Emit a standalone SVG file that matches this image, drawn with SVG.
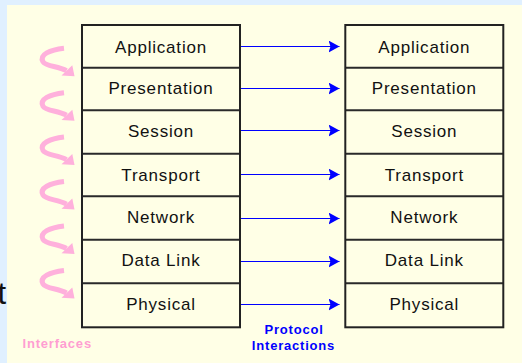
<svg xmlns="http://www.w3.org/2000/svg" xmlns:xlink="http://www.w3.org/1999/xlink" width="522" height="363" viewBox="0 0 522 363">
<style>
.layer{fill:#ffffe6;stroke:none}
.frame{fill:none;stroke:#222;stroke-width:2}
.div{stroke:#2a2a2a;stroke-width:2}
.lbl{font-family:"Liberation Sans",Arial,sans-serif;font-size:17px;letter-spacing:0.8px;fill:#111;text-anchor:middle}
.conn{stroke:#0000ff;stroke-width:1;fill:none}
.ifc{fill:none;stroke:#ffb0dc;stroke-width:5}
.ifh{fill:#ffb0dc}
.cap{font-family:"Liberation Sans",Arial,sans-serif;font-size:13px;font-weight:bold;letter-spacing:0.8px}
</style>
<defs>
<marker id="ah" markerUnits="userSpaceOnUse" markerWidth="12" markerHeight="13" refX="11" refY="6" orient="auto">
<path d="M0,0 L11,6 L0,12 L2,6 z" fill="#0000ff"/>
</marker>
<g id="iface">
<path class="ifc" d="M64,1.5 C50,3 39,8 43,15 C46,20 58,19 66.5,24"/>
<polygon class="ifh" points="72.3,18.5 61.5,28.7 74.5,29.5"/>
</g>
</defs>
<rect x="0" y="0" width="522" height="363" fill="#e0f0ff"/>
<text x="-2.5" y="304" font-family="Liberation Sans,Arial,sans-serif" font-size="31" fill="#111">t</text>
<rect x="7" y="5" width="515" height="358" fill="#ffffe6"/>

<g id="stack-left">
<rect class="layer" x="82" y="25" width="158" height="302.3"/>
<line class="div" x1="82" y1="67.7" x2="240" y2="67.7"/>
<line class="div" x1="82" y1="110.3" x2="240" y2="110.3"/>
<line class="div" x1="82" y1="153.7" x2="240" y2="153.7"/>
<line class="div" x1="82" y1="196.3" x2="240" y2="196.3"/>
<line class="div" x1="82" y1="239.7" x2="240" y2="239.7"/>
<line class="div" x1="82" y1="283.3" x2="240" y2="283.3"/>
<rect class="frame" x="82" y="25" width="158" height="302.3"/>
<text class="lbl" x="161" y="52.5">Application</text>
<text class="lbl" x="161" y="94">Presentation</text>
<text class="lbl" x="161" y="137">Session</text>
<text class="lbl" x="161" y="181">Transport</text>
<text class="lbl" x="161" y="222.7">Network</text>
<text class="lbl" x="161" y="266.3">Data Link</text>
<text class="lbl" x="161" y="309.7">Physical</text>
</g>

<g id="stack-right">
<rect class="layer" x="345.3" y="25" width="158" height="302.3"/>
<line class="div" x1="345.3" y1="67.7" x2="503.3" y2="67.7"/>
<line class="div" x1="345.3" y1="110.3" x2="503.3" y2="110.3"/>
<line class="div" x1="345.3" y1="153.7" x2="503.3" y2="153.7"/>
<line class="div" x1="345.3" y1="196.3" x2="503.3" y2="196.3"/>
<line class="div" x1="345.3" y1="239.7" x2="503.3" y2="239.7"/>
<line class="div" x1="345.3" y1="283.3" x2="503.3" y2="283.3"/>
<rect class="frame" x="345.3" y="25" width="158" height="302.3"/>
<text class="lbl" x="424.3" y="52.5">Application</text>
<text class="lbl" x="424.3" y="94">Presentation</text>
<text class="lbl" x="424.3" y="137">Session</text>
<text class="lbl" x="424.3" y="181">Transport</text>
<text class="lbl" x="424.3" y="222.7">Network</text>
<text class="lbl" x="424.3" y="266.3">Data Link</text>
<text class="lbl" x="424.3" y="309.7">Physical</text>
</g>

<g id="connectors">
<line class="conn" x1="241" y1="46.5" x2="339.5" y2="46.5" marker-end="url(#ah)"/>
<line class="conn" x1="241" y1="88.5" x2="339.5" y2="88.5" marker-end="url(#ah)"/>
<line class="conn" x1="241" y1="130.5" x2="339.5" y2="130.5" marker-end="url(#ah)"/>
<line class="conn" x1="241" y1="174.5" x2="339.5" y2="174.5" marker-end="url(#ah)"/>
<line class="conn" x1="241" y1="218.5" x2="339.5" y2="218.5" marker-end="url(#ah)"/>
<line class="conn" x1="241" y1="261.5" x2="339.5" y2="261.5" marker-end="url(#ah)"/>
<line class="conn" x1="241" y1="304.5" x2="339.5" y2="304.5" marker-end="url(#ah)"/>
</g>

<g id="interfaces">
<use xlink:href="#iface" transform="translate(0,46.7)"/>
<use xlink:href="#iface" transform="translate(0,91.2)"/>
<use xlink:href="#iface" transform="translate(0,135.6)"/>
<use xlink:href="#iface" transform="translate(0,180.1)"/>
<use xlink:href="#iface" transform="translate(0,224.5)"/>
<use xlink:href="#iface" transform="translate(0,269)"/>
<text class="cap" x="22.5" y="347.7" fill="#ff9ed2">Interfaces</text>
</g>

<g id="protocol-label">
<text class="cap" x="294" y="333.7" fill="#0000ff" text-anchor="middle">Protocol</text>
<text class="cap" x="293.5" y="350.3" fill="#0000ff" text-anchor="middle">Interactions</text>
</g>
</svg>
